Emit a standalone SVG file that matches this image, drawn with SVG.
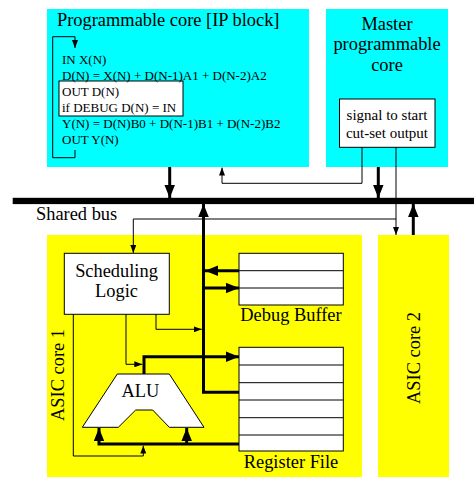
<svg xmlns="http://www.w3.org/2000/svg" width="474" height="477" viewBox="0 0 474 477">
<style>
text{font-family:"Liberation Serif","Times New Roman",serif;fill:#000}
.big{font-size:18.4px}
.code{font-size:13px}
.sig{font-size:15px}
.box{fill:#fff;stroke:#000;stroke-width:1}
.thick{fill:none;stroke:#000;stroke-width:3;stroke-linejoin:miter}
.thin{fill:none;stroke:#000;stroke-width:1}
</style>
<defs>
<marker id="ah" markerUnits="userSpaceOnUse" markerWidth="13" markerHeight="10.5" refX="13" refY="5.25" orient="auto"><path d="M0,0 L13,5.25 L0,10.5 z" fill="#000"/></marker>
<marker id="at" markerUnits="userSpaceOnUse" markerWidth="8" markerHeight="6" refX="8" refY="3" orient="auto"><path d="M0,0 L8,3 L0,6 z" fill="#000"/></marker>
</defs>
<rect width="474" height="477" fill="#fff"/>

<g id="prog-core">
<rect x="47" y="9" width="262" height="158" fill="#00ffff"/>
<text class="big" x="57" y="26">Programmable core [IP block]</text>
<rect class="box" x="59" y="81" width="124" height="35"/>
<text class="code" x="62" y="63.5">IN X(N)</text>
<text class="code" x="62" y="79.5">D(N) = X(N) + D(N-1)A1 + D(N-2)A2</text>
<text class="code" x="62" y="95.5">OUT D(N)</text>
<text class="code" x="62" y="111.5">if DEBUG D(N) = IN</text>
<text class="code" x="62" y="128">Y(N) = D(N)B0 + D(N-1)B1 + D(N-2)B2</text>
<text class="code" x="62" y="144">OUT Y(N)</text>
</g>

<g id="master-core">
<rect x="326" y="9" width="122" height="158" fill="#00ffff"/>
<text class="big" x="387" y="29.5" text-anchor="middle">Master</text>
<text class="big" x="387" y="50" text-anchor="middle">programmable</text>
<text class="big" x="387" y="71" text-anchor="middle">core</text>
<rect class="box" x="339.5" y="99" width="95.5" height="48.3"/>
<text class="sig" x="387" y="119.5" text-anchor="middle">signal to start</text>
<text class="sig" x="387" y="137.5" text-anchor="middle">cut-set output</text>
</g>

<g id="shared-bus">
<rect x="12.7" y="197.8" width="461.3" height="6.3" fill="#000"/>
<text class="big" x="36" y="220">Shared bus</text>
</g>

<g id="asic-core-1">
<rect x="47" y="235" width="315" height="242" fill="#ffff00"/>
<text class="big" transform="translate(64,375) rotate(-90)" text-anchor="middle">ASIC core 1</text>
</g>

<g id="asic-core-2">
<rect x="378" y="235" width="71" height="242" fill="#ffff00"/>
<text class="big" transform="translate(420,358) rotate(-90)" text-anchor="middle">ASIC core 2</text>
</g>

<g id="scheduling-logic">
<rect class="box" x="64.3" y="253.3" width="105" height="61"/>
<text class="big" x="116.5" y="277" text-anchor="middle">Scheduling</text>
<text class="big" x="116.5" y="297" text-anchor="middle">Logic</text>
</g>

<g id="debug-buffer">
<rect class="box" x="239" y="253.3" width="104.3" height="51.7"/>
<path class="thin" d="M239,270.7 H343.3 M239,288 H343.3"/>
<text class="big" x="291" y="321" text-anchor="middle">Debug Buffer</text>
</g>

<g id="register-file">
<rect class="box" x="239" y="347.3" width="104.3" height="103.7"/>
<path class="thin" d="M239,365 H343.3 M239,382.7 H343.3 M239,400 H343.3 M239,417.7 H343.3 M239,435 H343.3"/>
<text class="big" x="291" y="468" text-anchor="middle">Register File</text>
</g>

<g id="alu">
<polygon class="box" points="117.3,374 169.3,374 204,427.3 169.3,427.3 152.7,410 135.7,410 118.3,427.3 82.3,427.3"/>
<text class="big" x="140.5" y="397" text-anchor="middle">ALU</text>
</g>

<g id="connectors">
<path class="thin" stroke-width="1.3" d="M75,150 V157.7 H52.7 V36.7 H75 V48" marker-end="url(#at)"/>
<path class="thick" d="M169.7,167 V198" marker-end="url(#ah)"/>
<path class="thick" d="M378.3,167 V198" marker-end="url(#ah)"/>
<path class="thick" d="M413.3,235 V204" marker-end="url(#ah)"/>
<path class="thick" d="M239,392.3 H203.5 V204" marker-end="url(#ah)"/>
<path class="thick" d="M239,270.7 H205" marker-end="url(#ah)"/>
<path class="thick" d="M203.5,288 H239" marker-end="url(#ah)"/>
<path class="thick" d="M144,374 V356.7 H239" marker-end="url(#ah)"/>
<path class="thick" d="M239,444 H99 V428" marker-end="url(#ah)"/>
<path class="thick" d="M186.7,444 V428" marker-end="url(#ah)"/>
<path class="thin" d="M362,147.3 V183.3 H222 V167.5" marker-end="url(#at)"/>
<path class="thin" d="M396,147.3 V235" marker-end="url(#at)"/>
<path class="thin" d="M396,219 H133.3 V253" marker-end="url(#at)"/>
<path class="thin" d="M156,314.3 V329.3 H201.8" marker-end="url(#at)"/>
<path class="thin" d="M126,314.3 V364.3 H142.3" marker-end="url(#at)"/>
<path class="thin" d="M73.3,314.3 V456 H143.3 V445.6" marker-end="url(#at)"/>
</g>
</svg>
